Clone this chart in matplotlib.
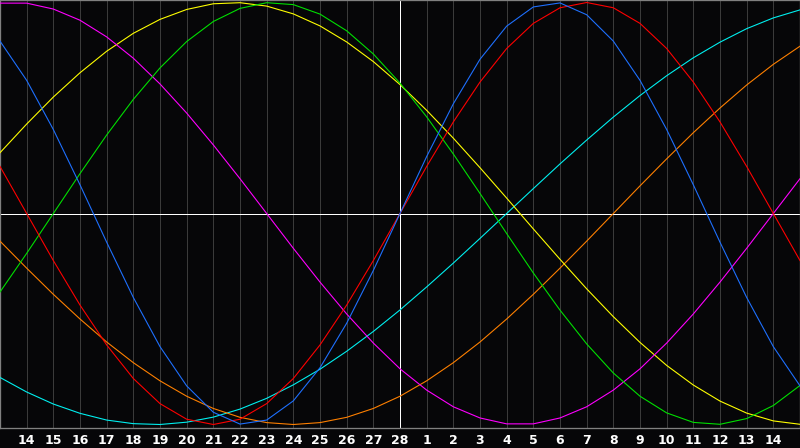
import matplotlib
matplotlib.use("Agg")
import matplotlib.pyplot as plt

# day offsets relative to centre day (28th) and tick labels
days = list(range(-15, 16))
tick_pos = list(range(-14, 15))
tick_labels = [str(d) for d in range(14, 29)] + [str(d) for d in range(1, 15)]

# cycle values read per day (-1 .. 1)
cycle_23 = [0.817,0.631,0.398,0.136,-0.136,-0.398,-0.631,-0.817,-0.942,-0.998,-0.979,-0.888,-0.731,-0.520,-0.270,0.000,0.270,0.520,0.731,0.888,0.979,0.998,0.942,0.817,0.631,0.398,0.136,-0.136,-0.398,-0.631,-0.817]
cycle_28 = [0.223,0.000,-0.223,-0.434,-0.623,-0.782,-0.901,-0.975,-1.000,-0.975,-0.901,-0.782,-0.623,-0.434,-0.223,0.000,0.223,0.434,0.623,0.782,0.901,0.975,1.000,0.975,0.901,0.782,0.623,0.434,0.223,0.000,-0.223]
cycle_33 = [-0.372,-0.189,0.000,0.189,0.372,0.541,0.690,0.815,0.910,0.972,0.999,0.990,0.945,0.866,0.756,0.618,0.458,0.282,0.095,-0.095,-0.282,-0.458,-0.618,-0.756,-0.866,-0.945,-0.990,-0.999,-0.972,-0.910,-0.815]
cycle_38 = [0.997,0.997,0.969,0.916,0.837,0.736,0.614,0.476,0.325,0.165,0.000,-0.165,-0.325,-0.476,-0.614,-0.736,-0.837,-0.916,-0.969,-0.997,-0.997,-0.969,-0.916,-0.837,-0.736,-0.614,-0.476,-0.325,-0.165,0.000,0.165]
cycle_43 = [0.288,0.424,0.552,0.667,0.769,0.854,0.920,0.967,0.994,0.999,0.983,0.946,0.889,0.813,0.720,0.611,0.489,0.357,0.217,0.073,-0.073,-0.217,-0.357,-0.489,-0.611,-0.720,-0.813,-0.889,-0.946,-0.983,-0.999]
cycle_48 = [-0.131,-0.259,-0.383,-0.500,-0.609,-0.707,-0.793,-0.866,-0.924,-0.966,-0.991,-1.000,-0.991,-0.966,-0.924,-0.866,-0.793,-0.707,-0.609,-0.500,-0.383,-0.259,-0.131,0.000,0.131,0.259,0.383,0.500,0.609,0.707,0.793]
cycle_53 = [-0.777,-0.846,-0.903,-0.947,-0.979,-0.996,-1.000,-0.989,-0.965,-0.927,-0.876,-0.812,-0.738,-0.653,-0.559,-0.457,-0.348,-0.235,-0.118,0.000,0.118,0.235,0.348,0.457,0.559,0.653,0.738,0.812,0.876,0.927,0.965]

series = [
    (cycle_53, "#00f0f0"),
    (cycle_48, "#ff8000"),
    (cycle_43, "#ffff00"),
    (cycle_38, "#ff00ff"),
    (cycle_33, "#00e000"),
    (cycle_28, "#ff0000"),
    (cycle_23, "#1e70ff"),
]

BG = "#060608"
fig = plt.figure(figsize=(8, 4.48), dpi=100, facecolor=BG)
ax = fig.add_axes([0, 20 / 448, 1, 428 / 448], facecolor=BG)
ax.set_xlim(-15, 15)
ax.set_ylim(-214.5 / 211, 213.5 / 211)

px = 72 / 100
for t in tick_pos:
    if t != 0:
        ax.axvline(t, color="#3a3a3a", lw=px, antialiased=False, zorder=1)
ax.axhline(0, color="white", lw=px, antialiased=False, zorder=2)
ax.axvline(0, color="white", lw=px, antialiased=False, zorder=2)

for vals, col in series:
    ax.plot(days, vals, color=col, lw=px * 1.1, antialiased=True, zorder=3,
            solid_joinstyle="round")

for s in ax.spines.values():
    s.set_color("#808080")
    s.set_linewidth(px * 1.3)

ax.set_yticks([])
ax.set_xticks(tick_pos)
ax.set_xticklabels(tick_labels, color="white", fontsize=9, fontweight="bold",
                   family="DejaVu Sans")
ax.tick_params(axis="x", length=0, pad=4)

fig.savefig("out.png", dpi=100, facecolor=BG)
